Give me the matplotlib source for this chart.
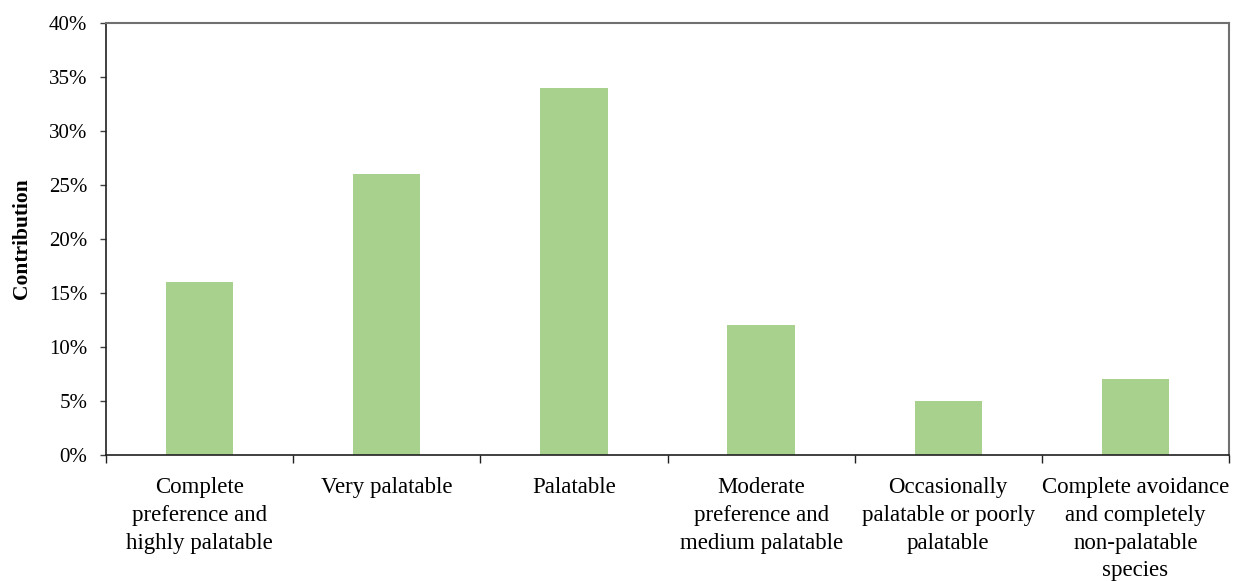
import matplotlib
matplotlib.use("Agg")
import matplotlib.pyplot as plt
import numpy as np
from matplotlib.ticker import PercentFormatter, FixedLocator

categories = ["Complete\npreference and\nhighly palatable",
              "Very palatable",
              "Palatable",
              "Moderate\npreference and\nmedium palatable",
              "Occasionally\npalatable or poorly\npalatable",
              "Complete avoidance\nand completely\nnon-palatable\nspecies"]
contribution = [16, 26, 34, 12, 5, 7]
y_ticks = [0, 5, 10, 15, 20, 25, 30, 35, 40]

plt.rcParams['font.family'] = ['Liberation Serif', 'DejaVu Serif']

fig = plt.figure(figsize=(12.36, 5.81), dpi=100)
ax = fig.add_axes([106/1236, 1 - 455/581, (1229-106)/1236, (455-23)/581])

x = np.arange(len(categories))
ax.bar(x, contribution, width=0.36, color="#A9D18E")

ax.set_xlim(-0.5, len(categories) - 0.5)
ax.set_ylim(0, 40)
ax.set_yticks(y_ticks)
ax.yaxis.set_major_formatter(PercentFormatter(decimals=0))
ax.tick_params(axis='y', labelsize=15, length=4.5, width=1, pad=9, color="#404040")

ax.set_xticks(x)
ax.set_xticklabels(categories, fontsize=16.5, linespacing=1.42, va='top')
ax.tick_params(axis='x', which='major', length=0, pad=16)
ax.xaxis.set_minor_locator(FixedLocator(np.arange(-0.5, len(categories), 1.0)))
ax.tick_params(axis='x', which='minor', length=5.5, width=1, color="#202020")

ax.set_ylabel("Contribution", fontsize=15.5, fontweight='bold', labelpad=12)

for side in ['left', 'bottom']:
    ax.spines[side].set_color("#202020")
    ax.spines[side].set_linewidth(1.2)
for side in ['top', 'right']:
    ax.spines[side].set_color("#707070")
    ax.spines[side].set_linewidth(1.5)

fig.savefig("out.png", dpi=100)
